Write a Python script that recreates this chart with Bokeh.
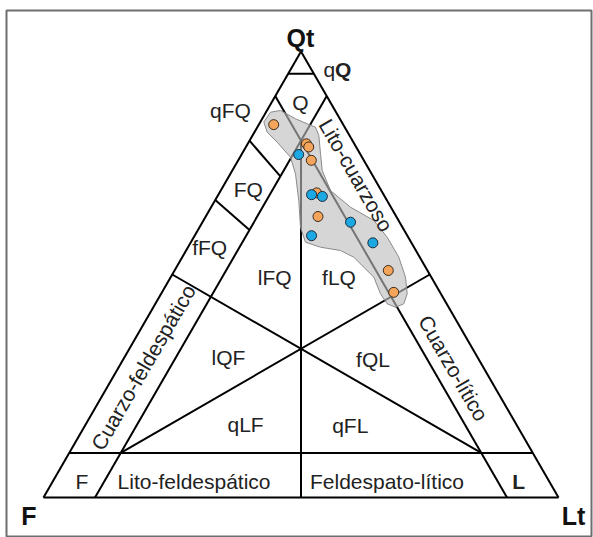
import math
from bokeh.plotting import figure
from bokeh.models import ColumnDataSource, Range1d
from bokeh.core.properties import value
from bokeh.embed import file_html
from bokeh.resources import INLINE

# ---------------- data (ternary percentages Q, F, L) ----------------
orange_q = [83.6, 79.3, 78.6, 75.6, 68.3, 63.0, 50.9, 46.0]
orange_f = [13.5, 9.3, 9.2, 10.2, 12.8, 15.2, 7.6, 9.0]
orange_l = [2.9, 11.4, 12.2, 14.2, 18.9, 21.8, 41.5, 45.0]

blue_q = [76.9, 67.9, 67.5, 58.7, 61.6, 57.1]
blue_f = [12.0, 14.0, 12.1, 18.6, 9.5, 7.5]
blue_l = [11.1, 18.1, 20.4, 22.7, 28.7, 35.4]

# envelope of the samples (triangle units)
env_x = [0.4278, 0.4408, 0.4602, 0.4893, 0.5120, 0.5282, 0.5346, 0.5379, 0.5412,
         0.5573, 0.5961, 0.6414, 0.6674, 0.6899, 0.7029, 0.7062, 0.6996, 0.6835,
         0.6674, 0.6544, 0.6414, 0.6025, 0.5767, 0.5379, 0.5087, 0.4990, 0.4957,
         0.4893, 0.4796, 0.4538, 0.4344]
env_y = [0.7288, 0.7482, 0.7515, 0.7353, 0.7256, 0.7190, 0.7029, 0.6674, 0.6350,
         0.5961, 0.5637, 0.5379, 0.5054, 0.4666, 0.4278, 0.3955, 0.3761, 0.3695,
         0.3761, 0.3955, 0.4278, 0.4666, 0.4796, 0.4860, 0.4957, 0.5249, 0.5767,
         0.6285, 0.6608, 0.6899, 0.7093]

# class boundaries: (Q1, F1, L1) -> (Q2, F2, L2)
seg_start = [(100, 0, 0), (0, 100, 0), (0, 0, 100), (95, 5, 0), (90, 10, 0), (90, 0, 10),
             (10, 90, 0), (80, 10, 10), (50, 50, 0), (50, 0, 50), (80, 20, 0), (66.7, 33.3, 0)]
seg_end = [(0, 100, 0), (0, 0, 100), (100, 0, 0), (95, 0, 5), (0, 10, 90), (0, 90, 10),
           (10, 0, 90), (0, 50, 50), (10, 10, 80), (10, 80, 10), (72, 18, 10), (60, 30, 10)]

region_labels = ["Q", "qFQ", "FQ", "fFQ", "lFQ", "fLQ", "lQF", "fQL", "qLF", "qFL",
                 "F", "Lito-feldespático", "Feldespato-lítico"]
region_x = [0.4990, 0.3631, 0.3975, 0.3227, 0.4489, 0.5738, 0.3592, 0.6398, 0.3924, 0.5957,
            0.0744, 0.2924, 0.6670]
region_y = [0.7662, 0.7509, 0.5977, 0.4856, 0.4278, 0.4278, 0.2711, 0.2678, 0.1425, 0.1398,
            0.0313, 0.0313, 0.0313]

rot_labels = ["Lito-cuarzoso", "Cuarzo-feldespático", "Cuarzo-lítico"]
rot_x = [0.6068, 0.1938, 0.7959]
rot_y = [0.6258, 0.2528, 0.2513]
rot_deg = [-60, 60, -60]

apex_labels = ["Qt", "F", "Lt"]
apex_x = [0.4990, -0.0283, 1.0291]
apex_y = [0.8932, -0.0353, -0.0353]


def tern(q, f, l):
    s = q + f + l
    return (l + q / 2.0) / s, (q * math.sqrt(3) / 2.0) / s


S = 515.0
W, H = 593, 537
BL, BT, BR, BB = 6, 10, 2, 0
FW, FH = W - BL - BR, H - BT - BB
x0 = -(43 - BL) / S
y0 = -(H - BB - 497) / S

p = figure(width=W, height=H, output_backend="svg", toolbar_location=None,
           x_range=Range1d(x0, x0 + FW / S), y_range=Range1d(y0, y0 + FH / S),
           min_border_left=BL, min_border_top=BT, min_border_right=BR, min_border_bottom=BB)
p.xaxis.visible = False
p.yaxis.visible = False
p.grid.visible = False
p.outline_line_color = "#6e6e6e"
p.outline_line_width = 2
p.background_fill_color = "white"
p.border_fill_color = "white"

xs, ys = [], []
for a, b in zip(seg_start, seg_end):
    xa, ya = tern(*a)
    xb, yb = tern(*b)
    xs.append([xa, xb])
    ys.append([ya, yb])
p.multi_line(xs, ys, line_color="black", line_width=2)

p.patch(env_x, env_y, fill_color="#bdbdbd", fill_alpha=0.62,
        line_color="#8a8a8a", line_width=1)

ox, oy = zip(*[tern(q, f, l) for q, f, l in zip(orange_q, orange_f, orange_l)])
bx, by = zip(*[tern(q, f, l) for q, f, l in zip(blue_q, blue_f, blue_l)])
p.scatter(list(ox), list(oy), size=10, fill_color="#F4A55B", line_color="#3a2a1a", line_width=1)
p.scatter(list(bx), list(by), size=10, fill_color="#1CA8E2", line_color="#1a2a3a", line_width=1)

font = value("Liberation Sans")
FS = "21px"
src = ColumnDataSource(dict(x=region_x, y=region_y, t=region_labels))
p.text("x", "y", text="t", source=src, text_font=font, text_font_size=FS,
       text_align="center", text_baseline="middle", text_color="#222222")

src_r = ColumnDataSource(dict(x=rot_x, y=rot_y, t=rot_labels,
                              a=[math.radians(d) for d in rot_deg]))
p.text("x", "y", text="t", angle="a", source=src_r, text_font=font, text_font_size=FS,
       text_align="center", text_baseline="middle", text_color="#222222")

# qQ label: regular q + bold Q
p.text([0.5437], [0.8311], text=["q"], text_font=font, text_font_size=FS,
       text_align="left", text_baseline="middle", text_color="#222222")
p.text([0.5660], [0.8311], text=["Q"], text_font=font, text_font_size=FS,
       text_font_style="bold", text_align="left", text_baseline="middle", text_color="#222222")
# L (bold) class
p.text([0.9227], [0.0313], text=["L"], text_font=font, text_font_size=FS,
       text_font_style="bold", text_align="center", text_baseline="middle", text_color="#222222")

src_a = ColumnDataSource(dict(x=apex_x, y=apex_y, t=apex_labels))
p.text("x", "y", text="t", source=src_a, text_font=font, text_font_size="25px",
       text_font_style="bold", text_align="center", text_baseline="middle", text_color="#111111")

open("out.html", "w").write(file_html(p, INLINE))
